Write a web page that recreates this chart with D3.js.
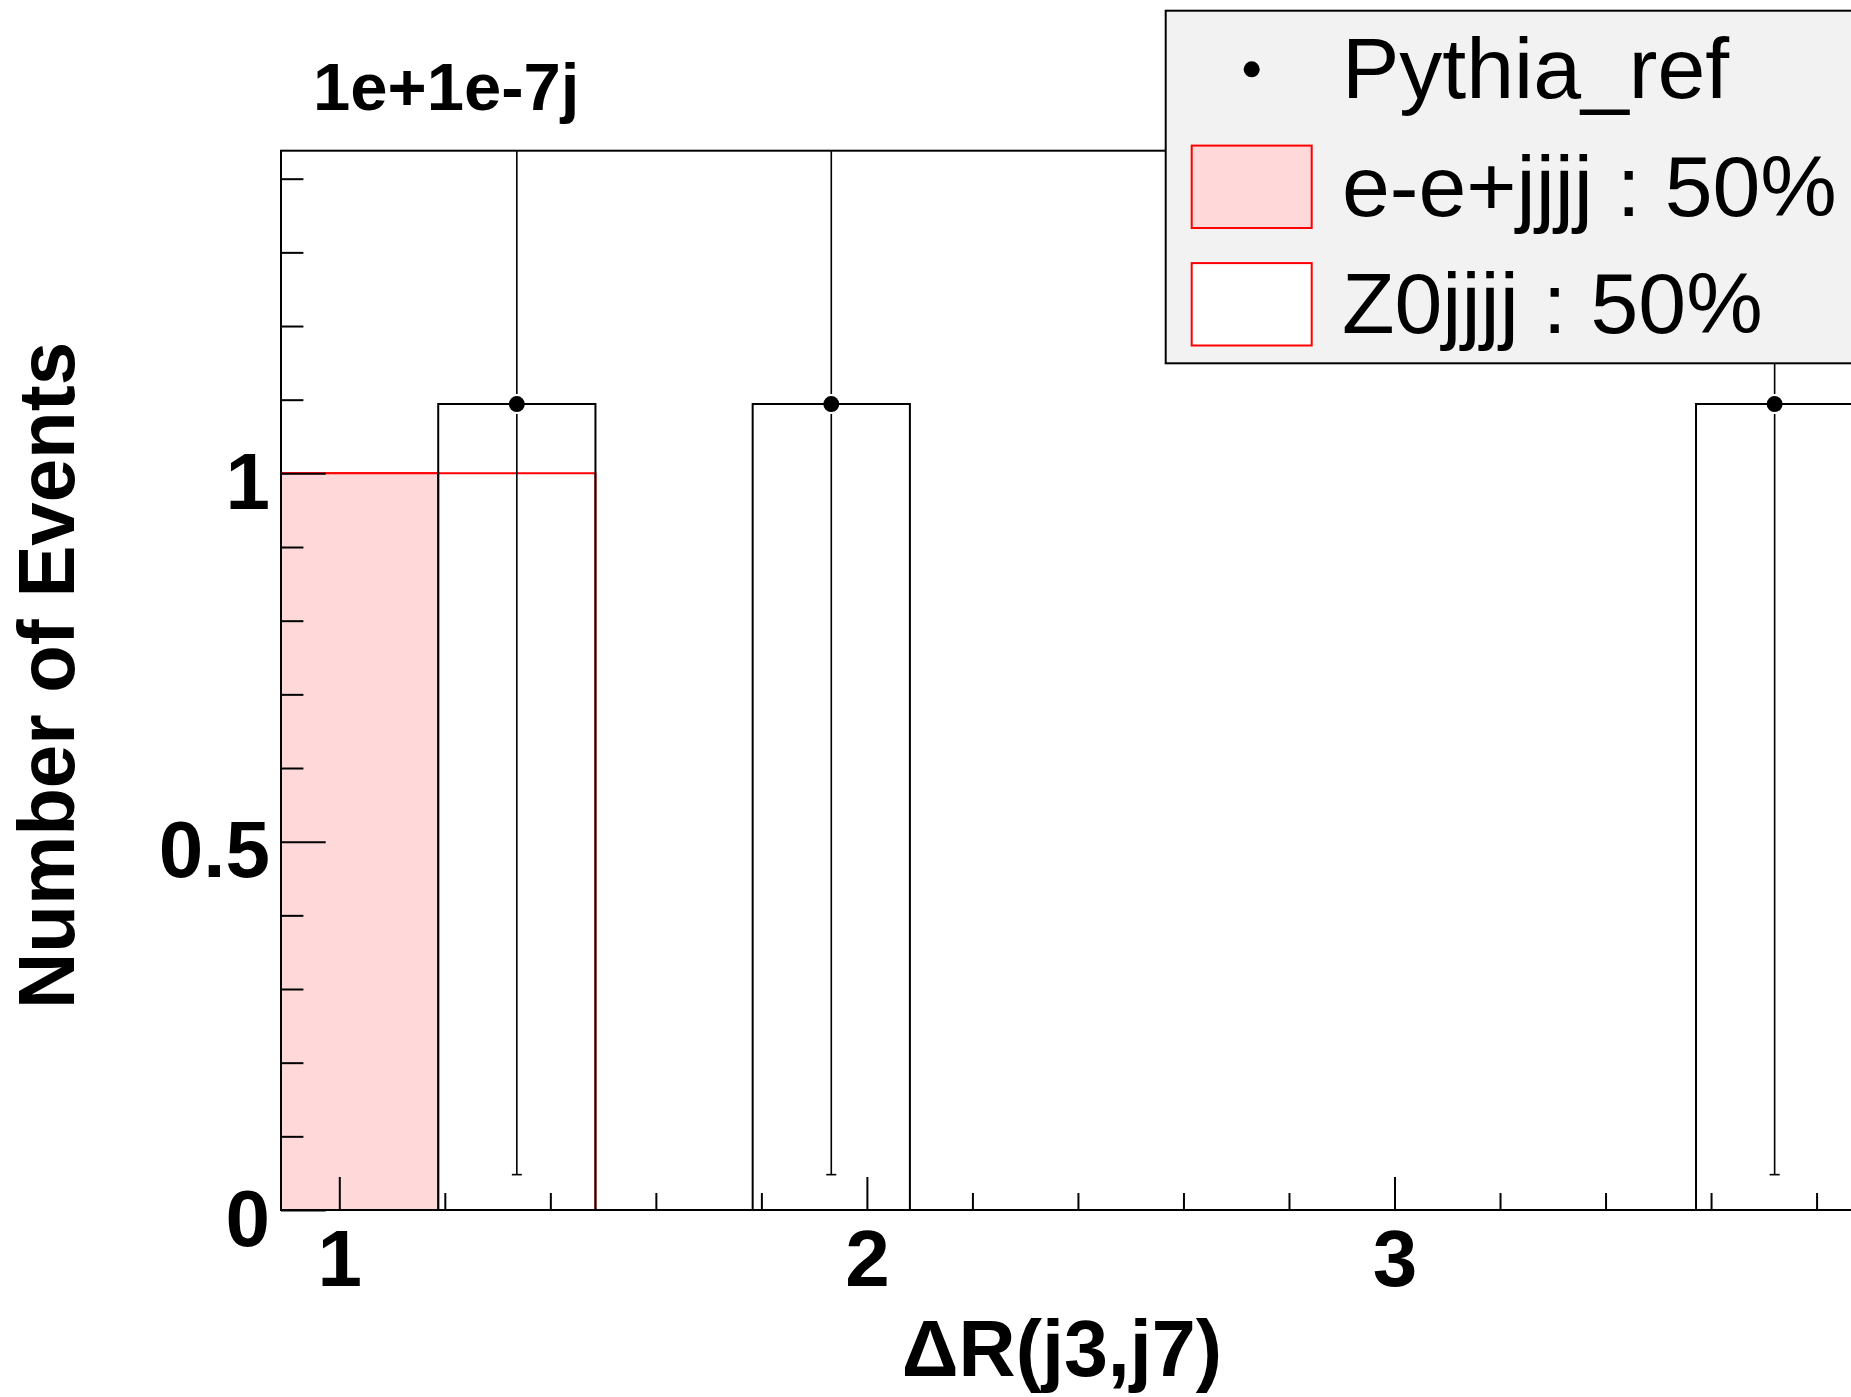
<!DOCTYPE html>
<html>
<head>
<meta charset="utf-8">
<script src="https://cdn.jsdelivr.net/npm/d3@7"></script>
<style>
  html, body { margin: 0; padding: 0; background: #fff; }
  svg { display: block; }
  text { font-family: "Liberation Sans", Arial, Helvetica, sans-serif; }
</style>
</head>
<body>
<svg id="chart" width="1851" height="1397"></svg>
<script>
// ---------- data ----------
const xMin = 0.8895;
const binWidth = 0.298;
const nBins = 10;
const eeJJJJ   = [1, 0, 0, 0, 0, 0, 0, 0, 0, 0];
const z0JJJJ   = [0, 1, 0, 0, 0, 0, 0, 0, 0, 0];
const pythiaRef = [0, 1.094, 0, 1.094, 0, 0, 0, 0, 0, 1.094];
const pythiaErr = [0, 1.046, 0, 1.046, 0, 0, 0, 0, 0, 1.046];
const yMax = 1.438;
const xMajorTicks = [1, 2, 3];
const xMinorTicks = [1.2, 1.4, 1.6, 1.8, 2.2, 2.4, 2.6, 2.8, 3.2, 3.4, 3.6, 3.8];
const yMajorTicks = [0, 0.5, 1];
const yMajorLabels = ["0", "0.5", "1"];
const yMinorTicks = [0.1, 0.2, 0.3, 0.4, 0.6, 0.7, 0.8, 0.9, 1.1, 1.2, 1.3, 1.4];
const legendLabels = ["Pythia_ref", "e-e+jjjj : 50%", "Z0jjjj : 50%"];
const titleText = "1e+1e-7j";
const xTitle = "\u0394R(j3,j7)";
const yTitle = "Number of Events";

// ---------- layout ----------
const L = 281, T = 150.7, B = 1210;
const pxPerUnit = 527.6;
const xMax = xMin + nBins * binWidth;
const R = L + (xMax - xMin) * pxPerUnit;

const svg = d3.select("#chart");
svg.append("rect").attr("width", 1851).attr("height", 1397).attr("fill", "#fff");

const x = d3.scaleLinear().domain([xMin, xMax]).range([L, R]);
const y = d3.scaleLinear().domain([0, yMax]).range([B, T]);

const edges = d3.range(nBins + 1).map(i => xMin + i * binWidth);

function stepPoints(vals) {
  const pts = [[edges[0], 0]];
  vals.forEach((v, i) => pts.push([edges[i], v]));
  pts.push([edges[nBins], vals[nBins - 1]]);
  pts.push([edges[nBins], 0]);
  return pts;
}
const stepLine = d3.line().x(d => x(d[0])).y(d => y(d[1])).curve(d3.curveStepAfter);

svg.append("defs").append("clipPath").attr("id", "clip")
  .append("rect").attr("x", L).attr("y", T).attr("width", R - L).attr("height", B - T);

const plot = svg.append("g").attr("clip-path", "url(#clip)");

// stack: sum drawn first (white fill), then e-e+jjjj (pink)
const stackSum = eeJJJJ.map((v, i) => v + z0JJJJ[i]);
plot.append("path").attr("d", stepLine(stepPoints(stackSum)))
  .attr("fill", "#ffffff").attr("stroke", "#ff0000").attr("stroke-width", 2);
plot.append("path").attr("d", stepLine(stepPoints(eeJJJJ)))
  .attr("fill", "#ffd8da").attr("stroke", "#ff0000").attr("stroke-width", 2);

// Pythia reference outline
plot.append("path").attr("d", stepLine(stepPoints(pythiaRef)))
  .attr("fill", "none").attr("stroke", "#000").attr("stroke-width", 2);

// error bars and markers
const pts = pythiaRef.map((v, i) => ({v, e: pythiaErr[i], c: xMin + (i + 0.5) * binWidth}))
  .filter(d => d.v > 0);
const gap = 10;
const eb = plot.append("g").attr("stroke", "#000").attr("stroke-width", 1.6);
pts.forEach(d => {
  const cx = x(d.c), cy = y(d.v);
  eb.append("line").attr("x1", cx).attr("x2", cx).attr("y1", y(d.v + d.e)).attr("y2", cy - gap);
  eb.append("line").attr("x1", cx).attr("x2", cx).attr("y1", cy + gap).attr("y2", y(d.v - d.e));
  eb.append("line").attr("x1", cx - 5).attr("x2", cx + 5).attr("y1", y(d.v - d.e)).attr("y2", y(d.v - d.e));
});
plot.append("g").selectAll("circle").data(pts).join("circle")
  .attr("cx", d => x(d.c)).attr("cy", d => y(d.v)).attr("r", 8).attr("fill", "#000");

// ---------- axes ----------
const fontBold = "bold";
const xAxisMajor = d3.axisBottom(x).tickValues(xMajorTicks).tickSize(-33).tickPadding(18).tickFormat(d3.format("d"));
const gx = svg.append("g").attr("transform", `translate(0,${B})`).call(xAxisMajor);
gx.select(".domain").remove();
gx.selectAll(".tick line").attr("stroke", "#000").attr("stroke-width", 2);
gx.selectAll(".tick text").attr("font-size", 80).attr("font-weight", fontBold).attr("fill", "#000")
  .attr("font-family", "Liberation Sans, Arial, sans-serif").attr("dy", null).attr("y", 76);

const xAxisMinor = d3.axisBottom(x).tickValues(xMinorTicks).tickSize(-17).tickFormat("");
const gxm = svg.append("g").attr("transform", `translate(0,${B})`).call(xAxisMinor);
gxm.select(".domain").remove();
gxm.selectAll(".tick line").attr("stroke", "#000").attr("stroke-width", 2);

const yAxisMajor = d3.axisLeft(y).tickValues(yMajorTicks).tickSize(-44.7).tickPadding(11)
  .tickFormat((d, i) => yMajorLabels[i]);
const gy = svg.append("g").attr("transform", `translate(${L},0)`).call(yAxisMajor);
gy.select(".domain").remove();
gy.selectAll(".tick line").attr("stroke", "#000").attr("stroke-width", 2);
gy.selectAll(".tick text").attr("font-size", 80).attr("font-weight", fontBold).attr("fill", "#000")
  .attr("font-family", "Liberation Sans, Arial, sans-serif").attr("dy", 35).attr("x", -11);

const yAxisMinor = d3.axisLeft(y).tickValues(yMinorTicks).tickSize(-22.4).tickFormat("");
const gym = svg.append("g").attr("transform", `translate(${L},0)`).call(yAxisMinor);
gym.select(".domain").remove();
gym.selectAll(".tick line").attr("stroke", "#000").attr("stroke-width", 2);

// frame
svg.append("rect").attr("x", L).attr("y", T).attr("width", R - L).attr("height", B - T)
  .attr("fill", "none").attr("stroke", "#000").attr("stroke-width", 2);

// titles
svg.append("text").attr("x", 313).attr("y", 110).attr("font-size", 67).attr("font-weight", "bold")
  .attr("fill", "#000").text(titleText);
svg.append("text").attr("x", 1222).attr("y", 1376).attr("text-anchor", "end")
  .attr("font-size", 79).attr("font-weight", "bold").attr("fill", "#000").text(xTitle);
svg.append("text").attr("transform", "translate(74,342) rotate(-90)").attr("text-anchor", "end")
  .attr("font-size", 80).attr("font-weight", "bold").attr("fill", "#000")
  .attr("textLength", 667).attr("lengthAdjust", "spacingAndGlyphs").text(yTitle);

// ---------- legend ----------
const lg = svg.append("g");
lg.append("rect").attr("x", 1165.7).attr("y", 10.7).attr("width", 800).attr("height", 352.6)
  .attr("fill", "#f2f2f2").attr("stroke", "#000").attr("stroke-width", 2);
const rowC = [69.3, 186.8, 304.3];
lg.append("circle").attr("cx", 1251.7).attr("cy", rowC[0]).attr("r", 8).attr("fill", "#000");
lg.append("rect").attr("x", 1191.7).attr("y", rowC[1] - 41.2).attr("width", 120).attr("height", 82.4)
  .attr("fill", "#ffd8da").attr("stroke", "#ff0000").attr("stroke-width", 2);
lg.append("rect").attr("x", 1191.7).attr("y", rowC[2] - 41.2).attr("width", 120).attr("height", 82.4)
  .attr("fill", "#ffffff").attr("stroke", "#ff0000").attr("stroke-width", 2);
lg.selectAll("text.lab").data(legendLabels).join("text").attr("class", "lab")
  .attr("x", 1342).attr("y", (d, i) => rowC[i] + 29).attr("font-size", 86).attr("fill", "#000")
  .text(d => d);
</script>
</body>
</html>
